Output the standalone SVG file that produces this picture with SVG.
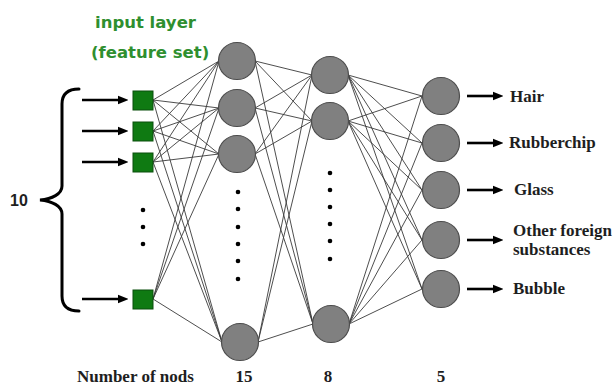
<svg xmlns="http://www.w3.org/2000/svg" width="616" height="386" viewBox="0 0 616 386">
  <style>
    .edge { stroke: #3a3a3a; stroke-width: 0.9; fill: none; }
    .arrow { stroke: #000; stroke-width: 2.6; fill: none; marker-end: url(#head); }
    .inp { fill: #0f7a12; stroke: #0a4f0c; stroke-width: 1; }
    .neuron { fill: #808080; stroke: #4d4d4d; stroke-width: 1.2; }
    .dot { fill: #000; }
    .title { font-family: "DejaVu Sans", Verdana, sans-serif; font-weight: bold; font-size: 16.5px; fill: #2f8f2f; }
    .lbl { font-family: "Liberation Serif", "DejaVu Serif", "Times New Roman", serif; font-weight: bold; font-size: 17px; fill: #1e1e1e; }
    .cnt { font-family: "Liberation Sans", Arial, sans-serif; font-weight: bold; font-size: 16px; fill: #1e1e1e; }
  </style>
  <defs>
    <marker id="head" viewBox="0 0 10 10" refX="2" refY="5" markerWidth="4" markerHeight="4" orient="auto" markerUnits="strokeWidth">
      <path d="M0,1 L10,5 L0,9 Z" fill="#000"/>
    </marker>
  </defs>
  <rect width="616" height="386" fill="#fff"/>

  <!-- heading over the input column -->
  <text class="title" x="95" y="28">input layer</text>
  <text class="title" x="91" y="58">(feature set)</text>

  <!-- brace grouping the 10 inputs -->
  <g id="brace">
    <path d="M79,89 C68,89 62,94 62,104 L62,186 C62,194 52,199 40,200 C52,201 62,206 62,214 L62,296 C62,306 68,311 79,311" stroke="#000" stroke-width="3" fill="none" stroke-linecap="round"/>
    <text class="cnt" x="10" y="206">10</text>
  </g>

  <!-- weighted links between layers -->
  <g id="connectors">
    <!-- inputs to first hidden layer -->
    <path class="edge" d="M153,100 L219,61 M153,100 L219,108 M153,100 L219,154 M153,100 L222,342
                          M153,131 L219,61 M153,131 L219,108 M153,131 L219,154 M153,131 L222,342
                          M153,162 L219,61 M153,162 L219,108 M153,162 L219,154 M153,162 L222,342
                          M153,299 L219,61 M153,299 L219,108 M153,299 L219,154 M153,299 L222,342"/>
    <!-- first hidden layer to second hidden layer -->
    <path class="edge" d="M255,61 L312,75 M255,61 L312,121 M255,61 L313,324
                          M255,108 L312,75 M255,108 L312,121 M255,108 L313,324
                          M255,154 L312,75 M255,154 L312,121 M255,154 L313,324
                          M258,342 L312,75 M258,342 L312,121 M258,342 L313,324"/>
    <!-- second hidden layer to outputs -->
    <path class="edge" d="M348,75 L422,96 M348,75 L422,143 M348,75 L422,190 M348,75 L422,240 M348,75 L422,289
                          M348,121 L422,96 M348,121 L422,143 M348,121 L422,190 M348,121 L422,240 M348,121 L422,289
                          M349,324 L422,96 M349,324 L422,143 M349,324 L422,190 M349,324 L422,240 M349,324 L422,289"/>
    <!-- incoming feature arrows -->
    <line class="arrow" x1="82" y1="100" x2="120" y2="100"/>
    <line class="arrow" x1="82" y1="131" x2="120" y2="131"/>
    <line class="arrow" x1="82" y1="162" x2="120" y2="162"/>
    <line class="arrow" x1="82" y1="299" x2="120" y2="299"/>
    <!-- outgoing class arrows -->
    <line class="arrow" x1="467" y1="96" x2="495" y2="96"/>
    <line class="arrow" x1="467" y1="143" x2="495" y2="143"/>
    <line class="arrow" x1="467" y1="190" x2="495" y2="190"/>
    <line class="arrow" x1="467" y1="240" x2="495" y2="240"/>
    <line class="arrow" x1="467" y1="289" x2="495" y2="289"/>
  </g>

  <!-- input layer -->
  <g id="in1"><rect class="inp" x="133" y="91" width="20" height="19"/></g>
  <g id="in2"><rect class="inp" x="133" y="122" width="20" height="19"/></g>
  <g id="in3"><rect class="inp" x="133" y="153" width="20" height="19"/></g>
  <g id="in10"><rect class="inp" x="133" y="290" width="20" height="19"/></g>
  <g id="in-gap">
    <circle class="dot" cx="143" cy="210" r="2.3"/>
    <circle class="dot" cx="143" cy="227" r="2.3"/>
    <circle class="dot" cx="143" cy="244" r="2.3"/>
  </g>

  <!-- first hidden layer (15) -->
  <g id="h1a"><circle class="neuron" cx="237" cy="61" r="18.5"/></g>
  <g id="h1b"><circle class="neuron" cx="237" cy="108" r="18.5"/></g>
  <g id="h1c"><circle class="neuron" cx="237" cy="154" r="18.5"/></g>
  <g id="h1o"><circle class="neuron" cx="240" cy="342" r="18.5"/></g>
  <g id="h1-gap">
    <circle class="dot" cx="238" cy="192" r="2.3"/>
    <circle class="dot" cx="238" cy="209" r="2.3"/>
    <circle class="dot" cx="238" cy="227" r="2.3"/>
    <circle class="dot" cx="238" cy="244" r="2.3"/>
    <circle class="dot" cx="238" cy="261" r="2.3"/>
    <circle class="dot" cx="238" cy="279" r="2.3"/>
  </g>

  <!-- second hidden layer (8) -->
  <g id="h2a"><circle class="neuron" cx="330" cy="75" r="18.5"/></g>
  <g id="h2b"><circle class="neuron" cx="330" cy="121" r="18.5"/></g>
  <g id="h2h"><circle class="neuron" cx="331" cy="324" r="18.5"/></g>
  <g id="h2-gap">
    <circle class="dot" cx="330" cy="173" r="2.3"/>
    <circle class="dot" cx="330" cy="190" r="2.3"/>
    <circle class="dot" cx="330" cy="207" r="2.3"/>
    <circle class="dot" cx="330" cy="224" r="2.3"/>
    <circle class="dot" cx="330" cy="241" r="2.3"/>
    <circle class="dot" cx="330" cy="259" r="2.3"/>
  </g>

  <!-- output layer (5) -->
  <g id="out-hair"><circle class="neuron" cx="441" cy="96" r="18.5"/><text class="lbl" x="510" y="102">Hair</text></g>
  <g id="out-rubber"><circle class="neuron" cx="441" cy="143" r="18.5"/><text class="lbl" x="509" y="148">Rubberchip</text></g>
  <g id="out-glass"><circle class="neuron" cx="441" cy="190" r="18.5"/><text class="lbl" x="514" y="195">Glass</text></g>
  <g id="out-other"><circle class="neuron" cx="441" cy="240" r="18.5"/><text class="lbl" x="513" y="236">Other foreign</text><text class="lbl" x="513" y="255">substances</text></g>
  <g id="out-bubble"><circle class="neuron" cx="441" cy="289" r="18.5"/><text class="lbl" x="513" y="294">Bubble</text></g>

  <!-- node counts per layer -->
  <g id="counts">
    <text class="lbl" x="77" y="382">Number of nods</text>
    <text class="lbl" x="244" y="382" text-anchor="middle">15</text>
    <text class="lbl" x="328" y="382" text-anchor="middle">8</text>
    <text class="lbl" x="441" y="382" text-anchor="middle">5</text>
  </g>
</svg>
